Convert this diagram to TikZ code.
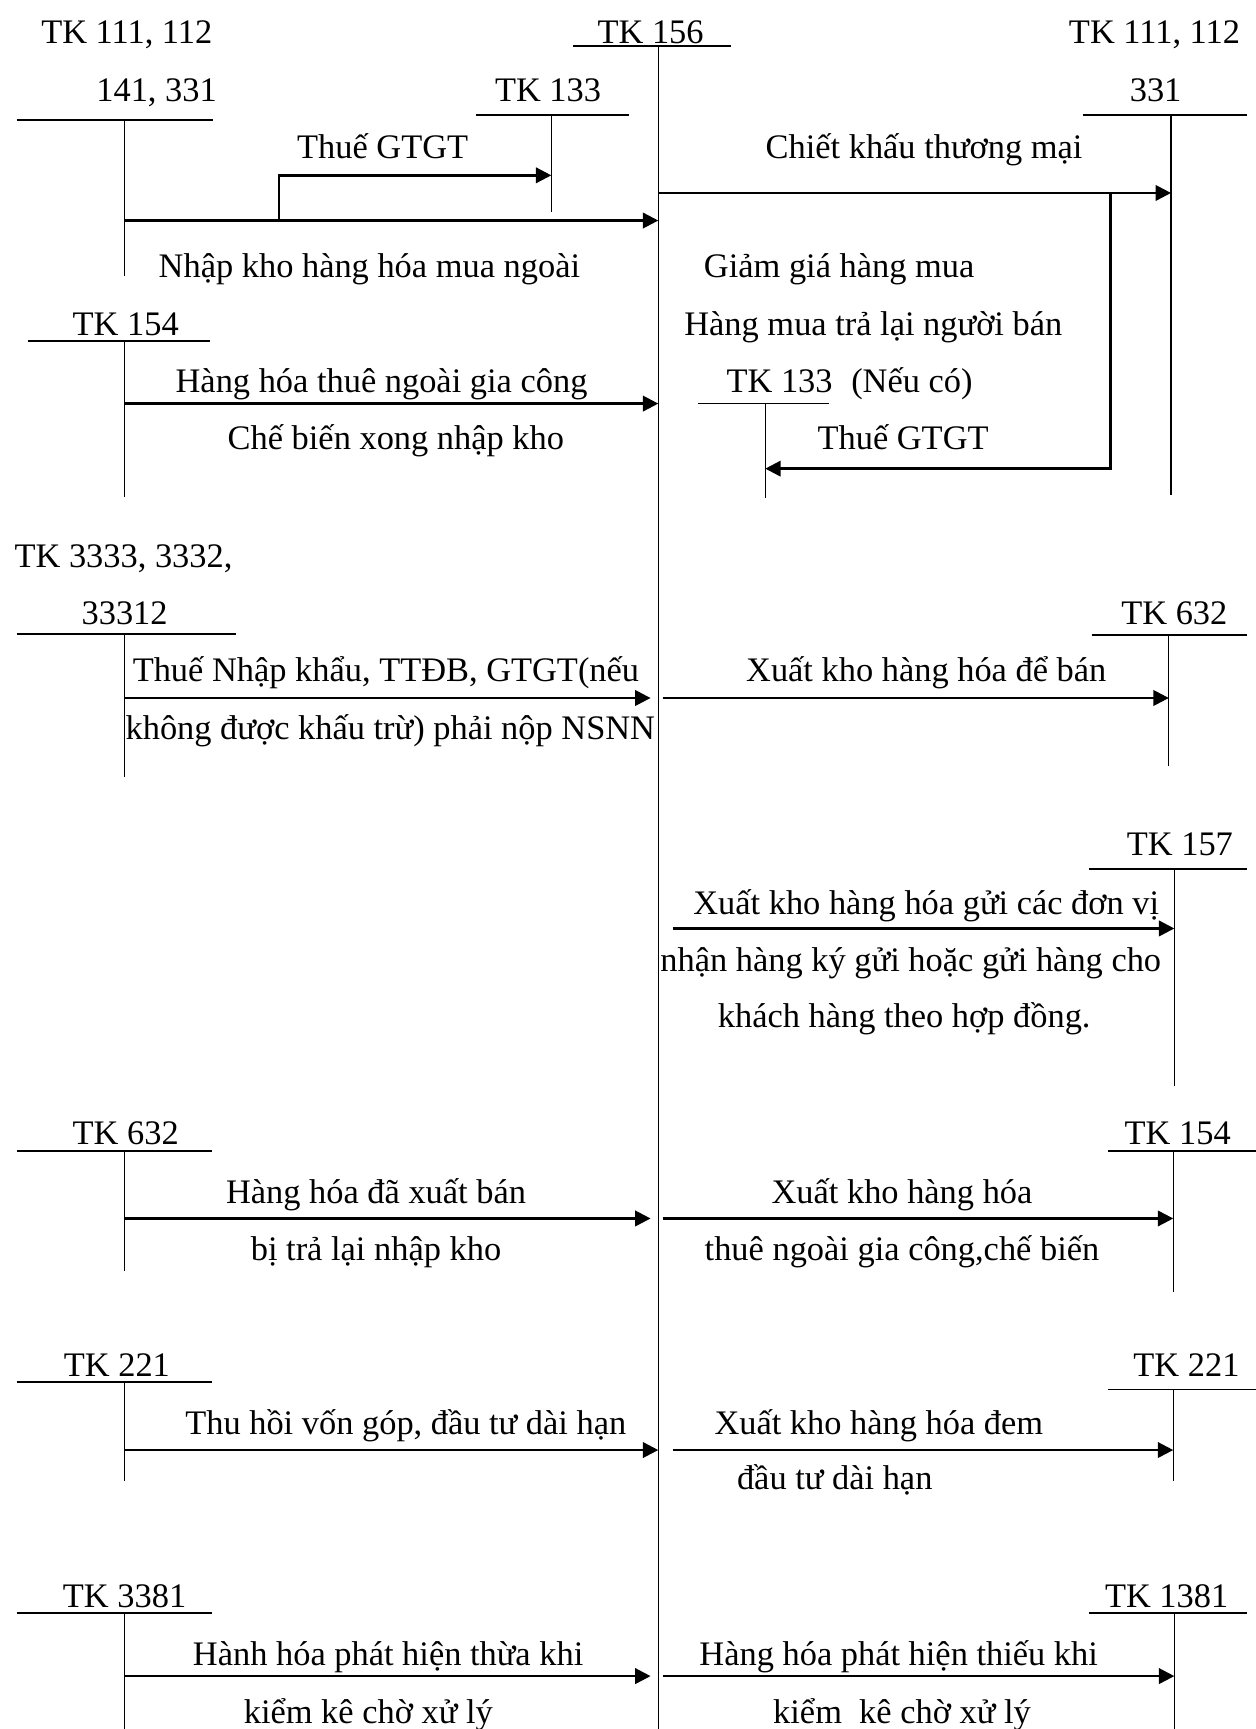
\documentclass[tikz,border=0pt]{standalone}
\usepackage{fontspec}
\setmainfont{Liberation Serif}
\usetikzlibrary{arrows.meta}

\begin{document}
\begin{tikzpicture}[x=0.5pt, y=-0.5pt, font=\fontsize{15.6}{18}\selectfont,
  txt/.style={inner sep=0pt, anchor=base},
  bar/.style={line width=0.8pt},
  leg/.style={line width=0.55pt},
  flow/.style={line width=1.1pt, -{Triangle[length=7pt, width=7pt]}}]

  \useasboundingbox (0,0) rectangle (1139,1568);

  % TK 156 (centre account)
  \node[txt] (tk156) at (590,39) {TK 156};
  \draw[bar] (520,42) -- (663,42);
  \coordinate (m0) at (597,42);
  \coordinate (m1) at (597,1568);
  \draw[leg] (m0) -- (m1);

  % --- left side ---
  % TK 111, 112, 141, 331
  \node[txt] (tk111l) at (115,39) {TK 111, 112};
  \node[txt] (tk141) at (142,92) {141, 331};
  \draw[bar] (15,109) -- (193,109);
  \coordinate (a1) at (113,109);
  \coordinate (a2) at (113,250);
  \draw[leg] (a1) -- (a2);

  % TK 133 (top)
  \node[txt] (tk133a) at (497,92) {TK 133};
  \draw[bar] (432,104) -- (570,104);
  \coordinate (b1) at (500,104);
  \coordinate (b2) at (500,192);
  \draw[leg] (b1) -- (b2);

  \coordinate (a3) at (113,200);
  \coordinate (a4) at (253,200);
  \draw[flow] (a3) -- (a3 -| m0);
  \draw[flow] (a4) -- (253,159) -- (253,159 -| b1);
  \node[txt] (vat1) at (347,144) {Thuế GTGT};
  \node[txt] (buy) at (335,252) {Nhập kho hàng hóa mua ngoài};

  % TK 154 (left)
  \node[txt] (tk154l) at (114,304) {TK 154};
  \draw[bar] (25,309) -- (190,309);
  \coordinate (c1) at (113,309);
  \coordinate (c2) at (113,451);
  \draw[leg] (c1) -- (c2);
  \coordinate (c3) at (113,366);
  \draw[flow] (c3) -- (c3 -| m0);
  \node[txt] (out1) at (346,356) {Hàng hóa thuê ngoài gia công};
  \node[txt] (out2) at (359,408) {Chế biến xong nhập kho};

  % TK 3333, 3332, 33312
  \node[txt] (tk3333) at (112,515) {TK 3333, 3332,};
  \node[txt] (tk33312) at (113,566) {33312};
  \draw[bar] (15,575) -- (214,575);
  \coordinate (d1) at (113,575);
  \coordinate (d2) at (113,705);
  \draw[leg] (d1) -- (d2);
  \coordinate (d3) at (113,633);
  \coordinate (d4) at (590,633);
  \draw[flow] (d3) -- (d4);
  \node[txt] (tax1) at (350,618) {Thuế Nhập khẩu, TTĐB, GTGT(nếu};
  \node[txt] (tax2) at (354,671) {không được khấu trừ) phải nộp NSNN};

  % TK 632 (left)
  \node[txt] (tk632l) at (114,1038) {TK 632};
  \draw[bar] (15,1044) -- (192,1044);
  \coordinate (e1) at (113,1044);
  \coordinate (e2) at (113,1153);
  \draw[leg] (e1) -- (e2);
  \coordinate (e3) at (113,1105);
  \coordinate (e4) at (590,1105);
  \draw[flow] (e3) -- (e4);
  \node[txt] (ret1) at (341,1091) {Hàng hóa đã xuất bán};
  \node[txt] (ret2) at (341,1143) {bị trả lại nhập kho};

  % TK 221 (left)
  \node[txt] (tk221l) at (106,1248) {TK 221};
  \draw[bar] (15,1253) -- (192,1253);
  \coordinate (f1) at (113,1253);
  \coordinate (f2) at (113,1343);
  \draw[leg] (f1) -- (f2);
  \coordinate (f3) at (113,1315);
  \draw[flow] (f3) -- (f3 -| m0);
  \node[txt] (inv1) at (368,1301) {Thu hồi vốn góp, đầu tư dài hạn};

  % TK 3381
  \node[txt] (tk3381) at (113,1458) {TK 3381};
  \draw[bar] (15,1463) -- (192,1463);
  \coordinate (g1) at (113,1463);
  \coordinate (g2) at (113,1568);
  \draw[leg] (g1) -- (g2);
  \coordinate (g3) at (113,1520);
  \coordinate (g4) at (590,1520);
  \draw[flow] (g3) -- (g4);
  \node[txt] (ext1) at (352,1510) {Hành hóa phát hiện thừa khi};
  \node[txt] (ext2) at (334,1563) {kiểm kê chờ xử lý};

  % --- right side ---
  % TK 111, 112, 331
  \node[txt] (tk111r) at (1047,39) {TK 111, 112};
  \node[txt] (tk331) at (1048,92) {331};
  \draw[bar] (982,104) -- (1131,104);
  \coordinate (p1) at (1062,104);
  \coordinate (p2) at (1062,449);
  \draw[leg] (p1) -- (p2);
  \coordinate (p3) at (597,175);
  \coordinate (p4) at (1007,175);
  \draw[flow] (p3) -- (p3 -| p1);
  \node[txt] (disc) at (838,144) {Chiết khấu thương mại};
  \node[txt] (red) at (761,252) {Giảm giá hàng mua};
  \node[txt] (back) at (792,304) {Hàng mua trả lại người bán};

  % TK 133 (Nếu có)
  \node[txt] (tk133b) at (707,356) {TK 133};
  \node[txt] (ifany) at (827,356) {(Nếu có)};
  \draw[bar] (633,366) -- (752,366);
  \coordinate (q1) at (694,366);
  \coordinate (q2) at (694,452);
  \draw[leg] (q1) -- (q2);
  \draw[flow] (p4) -- (1007,425) -- (1007,425 -| q1);
  \node[txt] (vat2) at (819,408) {Thuế GTGT};

  % TK 632 (right)
  \node[txt] (tk632r) at (1065,566) {TK 632};
  \draw[bar] (990,576) -- (1131,576);
  \coordinate (r1) at (1060,576);
  \coordinate (r2) at (1060,695);
  \draw[leg] (r1) -- (r2);
  \coordinate (r3) at (601,633);
  \draw[flow] (r3) -- (r3 -| r1);
  \node[txt] (sell) at (840,618) {Xuất kho hàng hóa để bán};

  % TK 157
  \node[txt] (tk157) at (1070,776) {TK 157};
  \draw[bar] (988,788) -- (1131,788);
  \coordinate (s1) at (1065,788);
  \coordinate (s2) at (1065,985);
  \draw[leg] (s1) -- (s2);
  \coordinate (s3) at (610,842);
  \draw[flow] (s3) -- (s3 -| s1);
  \node[txt] (send1) at (840,829) {Xuất kho hàng hóa gửi các đơn vị};
  \node[txt] (send2) at (826,881) {nhận hàng ký gửi hoặc gửi hàng cho};
  \node[txt] (send3) at (820,932) {khách hàng theo hợp đồng.};

  % TK 154 (right)
  \node[txt] (tk154r) at (1068,1038) {TK 154};
  \draw[bar] (1005,1044) -- (1139,1044);
  \coordinate (t1) at (1064,1044);
  \coordinate (t2) at (1064,1172);
  \draw[leg] (t1) -- (t2);
  \coordinate (t3) at (601,1105);
  \draw[flow] (t3) -- (t3 -| t1);
  \node[txt] (proc1) at (818,1091) {Xuất kho hàng hóa};
  \node[txt] (proc2) at (818,1143) {thuê ngoài gia công,chế biến};

  % TK 221 (right)
  \node[txt] (tk221r) at (1076,1248) {TK 221};
  \draw[bar] (1005,1260) -- (1139,1260);
  \coordinate (u1) at (1064,1260);
  \coordinate (u2) at (1064,1343);
  \draw[leg] (u1) -- (u2);
  \coordinate (u3) at (610,1315);
  \draw[flow] (u3) -- (u3 -| u1);
  \node[txt] (lt1) at (797,1301) {Xuất kho hàng hóa đem};
  \node[txt] (lt2) at (757,1351) {đầu tư dài hạn};

  % TK 1381
  \node[txt] (tk1381) at (1058,1458) {TK 1381};
  \draw[bar] (988,1463) -- (1131,1463);
  \coordinate (v1) at (1065,1463);
  \coordinate (v2) at (1065,1568);
  \draw[leg] (v1) -- (v2);
  \coordinate (v3) at (601,1520);
  \draw[flow] (v3) -- (v3 -| v1);
  \node[txt] (lack1) at (815,1510) {Hàng hóa phát hiện thiếu khi};
  \node[txt] (lack2) at (818,1563) {kiểm\ \ kê chờ xử lý};
\end{tikzpicture}
\end{document}
